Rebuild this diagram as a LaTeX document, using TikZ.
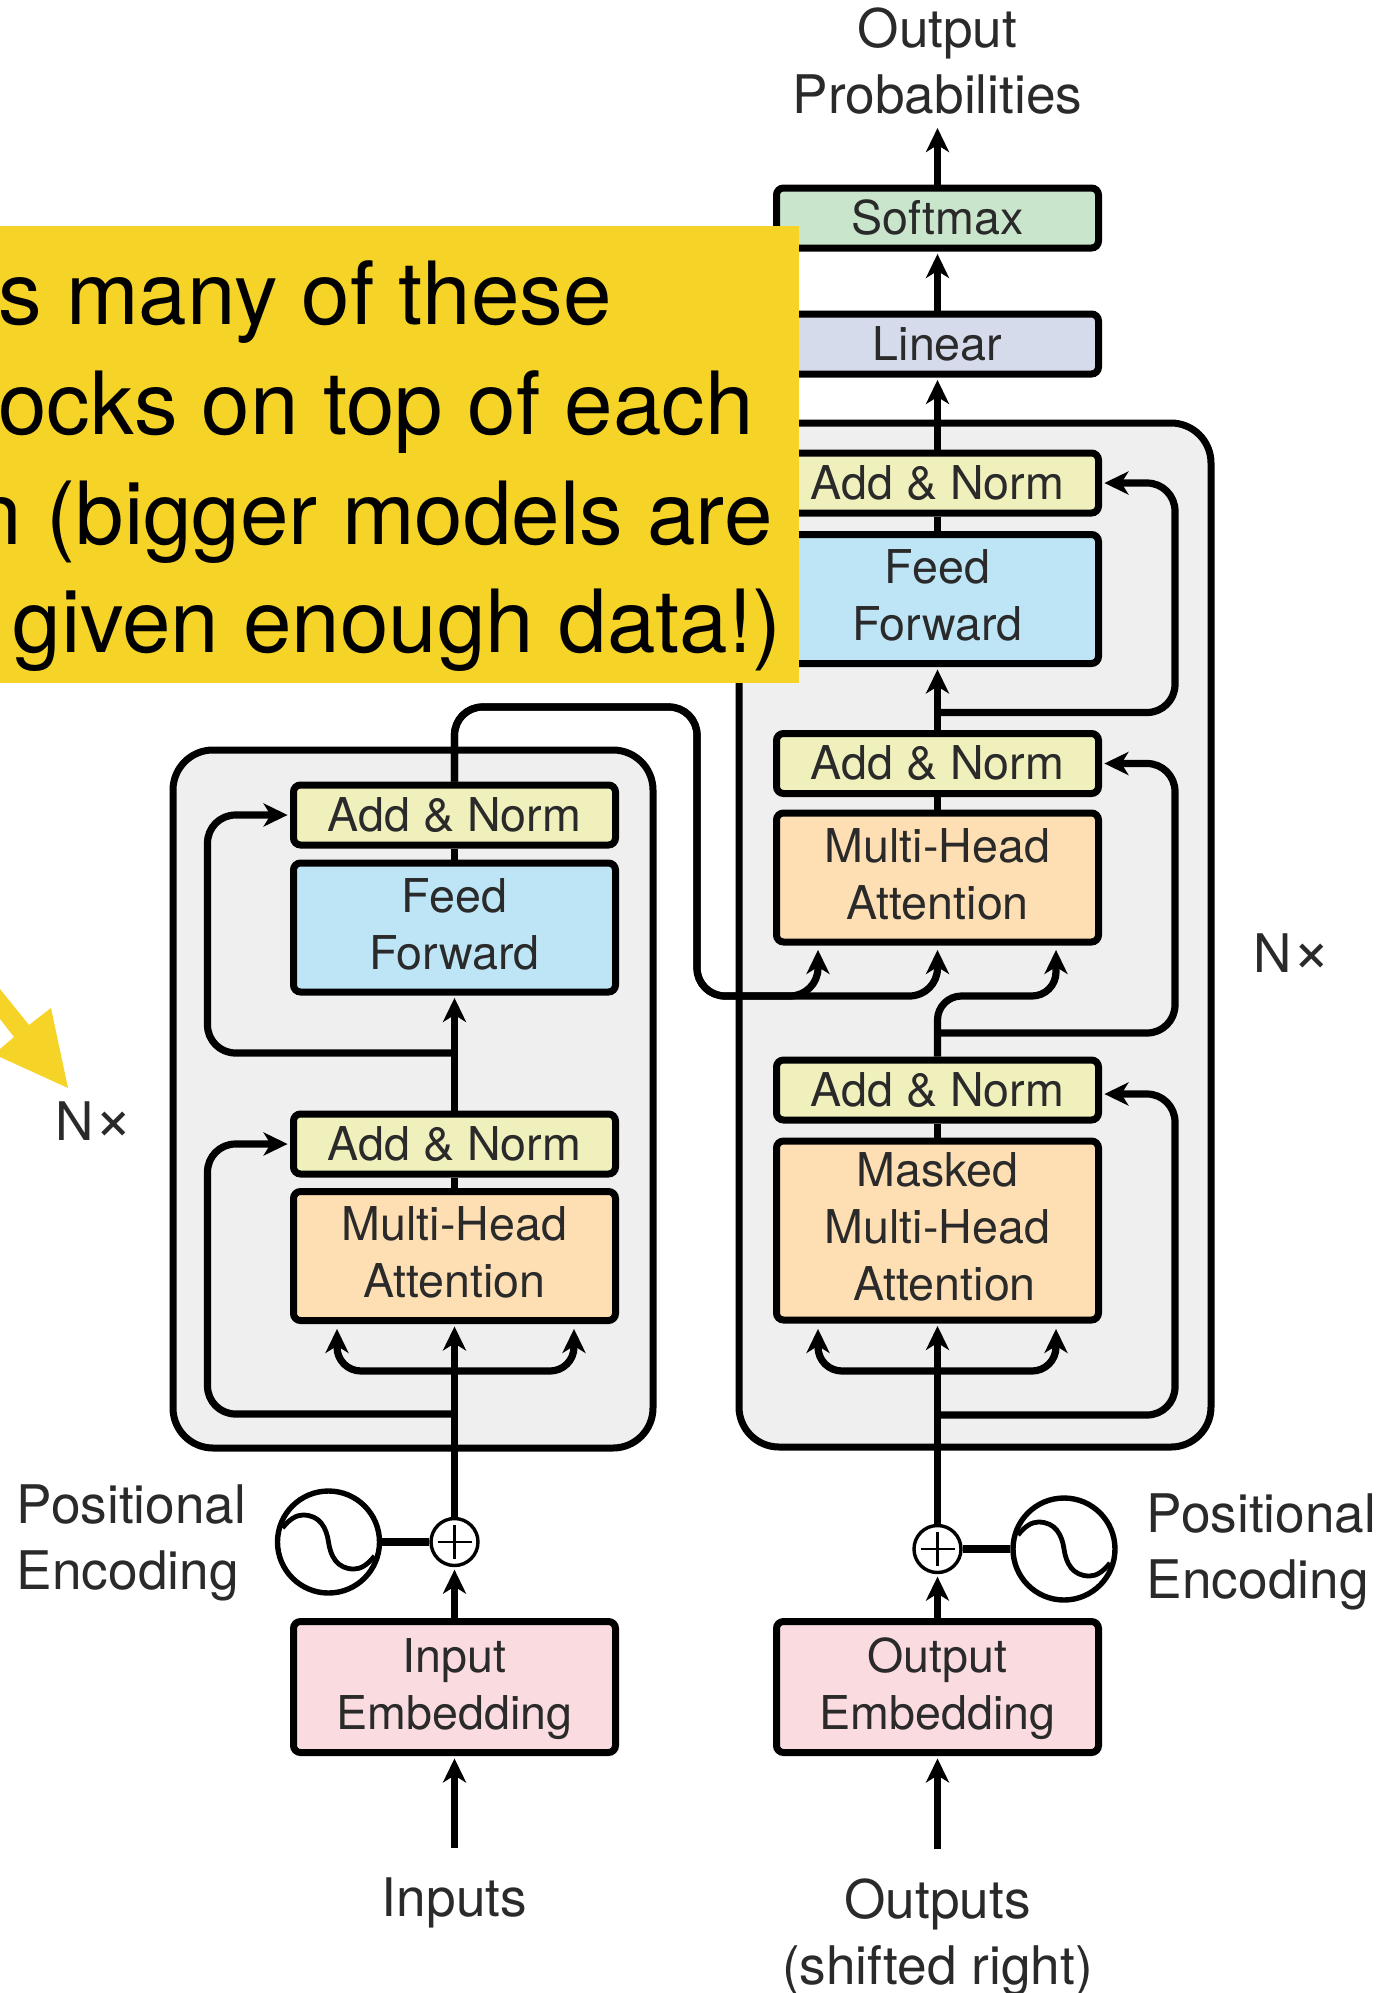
\documentclass[tikz,border=0pt]{standalone}
\usepackage{fontspec}
\setmainfont{TeX Gyre Heros}
\usetikzlibrary{arrows.meta}

\definecolor{softmaxgreen}{HTML}{C9E6CC}
\definecolor{linearblue}{HTML}{D6DBEC}
\definecolor{addnormyellow}{HTML}{EFF0BC}
\definecolor{feedblue}{HTML}{BEE5F6}
\definecolor{headorange}{HTML}{FDDFB3}
\definecolor{embedpink}{HTML}{FADBE0}
\definecolor{stackgray}{HTML}{EFEFEF}
\definecolor{calloutyellow}{HTML}{F5D327}
\definecolor{labelink}{HTML}{2A2A2A}

\tikzset{
  stackbox/.style={draw=black, fill=stackgray, line width=3.5pt, rounded corners=20pt, inner sep=0pt},
  blockbox/.style={draw=black, line width=3.5pt, rounded corners=3.5pt, inner sep=0pt, minimum width=161pt,
    align=center, text=labelink, font=\fontsize{23.3}{28.5}\selectfont},
  thinblock/.style={blockbox, minimum height=30pt},
  addnorm/.style={thinblock, fill=addnormyellow},
  feedblock/.style={blockbox, fill=feedblue, minimum height=64.5pt, text depth=3.8pt},
  headblock/.style={blockbox, fill=headorange, minimum height=64.5pt, text depth=3.8pt},
  embedblock/.style={blockbox, fill=embedpink, minimum height=65.5pt, text depth=3pt},
  labeltext/.style={inner sep=3pt, text=labelink, font=\fontsize{26.6}{33}\selectfont},
  callouttext/.style={inner sep=0pt, text=black, font=\fontsize{43.6}{55}\selectfont},
  flowline/.style={draw=black, line width=3.6pt},
  flowarrow/.style={flowline, -{Stealth[length=12pt,width=11.5pt,inset=3.5pt]}, shorten >=1.2pt},
  skiparrow/.style={flowarrow, rounded corners=14pt},
  keyarrow/.style={flowarrow, rounded corners=12pt},
}

\begin{document}
\begin{tikzpicture}[x=0.5pt,y=-0.5pt]
  \useasboundingbox (0,0) rectangle (1380,1993);

  \node[stackbox, minimum width=240pt, minimum height=349pt] (encstack) at (413,1099) {};
  \node[stackbox, minimum width=236pt, minimum height=512pt] (decstack) at (975,935) {};

  % encoder column
  \node[addnorm] (anencB) at (454.5,815) {Add \& Norm};
  \node[feedblock] (ffenc) at (454.5,927.5) {Feed\\Forward};
  \node[addnorm] (anencA) at (454.5,1144) {Add \& Norm};
  \node[headblock] (mhaenc) at (454.5,1256) {Multi-Head\\Attention};
  \node[embedblock] (embenc) at (454.5,1687) {Input\\Embedding};

  % decoder column
  \node[thinblock, fill=softmaxgreen] (softmax) at (937.5,218) {Softmax};
  \node[thinblock, fill=linearblue] (linear) at (937.5,344) {Linear};
  \node[addnorm] (andecC) at (937.5,483) {Add \& Norm};
  \node[feedblock] (ffdec) at (937.5,599) {Feed\\Forward};
  \node[addnorm] (andecB) at (937.5,763.5) {Add \& Norm};
  \node[headblock] (mhadec) at (937.5,877.5) {Multi-Head\\Attention};
  \node[addnorm] (andecA) at (937.5,1090) {Add \& Norm};
  \node[headblock, minimum height=89.5pt] (maskdec) at (937.5,1230.5) {Masked\\Multi-Head\\\hspace*{7pt}Attention};
  \node[embedblock] (embdec) at (937.5,1687) {Output\\Embedding};

  % positional encoding, sine circle and plus circle
  \foreach \sx/\px/\cy/\tag in {328.5/454.5/1542/enc,1064/937.5/1549/dec}{
    \node[draw=black, fill=white, circle, line width=2.7pt, inner sep=0pt, minimum size=51pt] (sine\tag) at (\sx,\cy) {};
    \begin{scope}[shift={(\sx,\cy)}]
      \draw[line width=2.4pt] (-46,-14) .. controls (-39,-23) and (-32,-27) .. (-25.5,-27)
        .. controls (-8.5,-27) and (-2,-14) .. (0,0)
        .. controls (2,14) and (8.5,27) .. (25.5,27)
        .. controls (32,27) and (39,23) .. (46,14);
    \end{scope}
    \node[draw=black, fill=white, circle, line width=1.7pt, inner sep=0pt, minimum size=23.5pt] (plus\tag) at (\px,\cy) {};
    \draw[line width=1.3pt] (\px,\cy) ++(-17,0) -- ++(34,0) (\px,\cy) ++(0,-17) -- ++(0,34);
    \draw[flowline] (sine\tag) -- (plus\tag);
  }

  % free ends of the connectors
  \coordinate (encskipA) at (454.5,1414);
  \coordinate (encskipB) at (454.5,1053);
  \coordinate (encfork) at (454.5,1371);
  \coordinate (enckeyA) at (337,1326.5);
  \coordinate (enckeyC) at (574,1326.5);
  \coordinate (crosstop) at (697,707);
  \coordinate (crossfoot) at (697,996);
  \coordinate (deckeyA) at (818,947.5);
  \coordinate (deckeyB) at (937.5,947.5);
  \coordinate (deckeyC) at (1056,947.5);
  \coordinate (decturn) at (937.5,996);
  \coordinate (decskipA) at (937.5,1415);
  \coordinate (decskipB) at (937.5,1033);
  \coordinate (decskipC) at (937.5,712.5);
  \coordinate (decfork) at (937.5,1371);
  \coordinate (maskkeyA) at (818,1326.5);
  \coordinate (maskkeyC) at (1056,1326.5);

  % encoder connectors
  \draw[flowarrow] (embenc.north) -- (plusenc.south);
  \draw[flowarrow] (plusenc.north) -- (mhaenc.south);
  \draw[flowline] (mhaenc.north) -- (anencA.south);
  \draw[flowarrow] (anencA.north) -- (ffenc.south);
  \draw[flowline] (ffenc.north) -- (anencB.south);
  \draw[skiparrow] (encskipA) -- ++(-247,0) |- (anencA.west);
  \draw[skiparrow] (encskipB) -- ++(-247,0) |- (anencB.west);
  \draw[keyarrow] (encfork) -| (enckeyA);
  \draw[keyarrow] (encfork) -| (enckeyC);

  % encoder output into the decoder
  \draw[flowarrow, rounded corners=14pt] (anencB.north) |- (crosstop) -- (crossfoot) -| (deckeyA);
  \draw[flowarrow, rounded corners=14pt] (anencB.north) |- (crosstop) -- (crossfoot) -| (deckeyB);

  % decoder connectors
  \draw[flowarrow] (embdec.north) -- (plusdec.south);
  \draw[flowarrow] (plusdec.north) -- (maskdec.south);
  \draw[flowline] (maskdec.north) -- (andecA.south);
  \draw[keyarrow] (andecA.north) -- (decturn) -| (deckeyC);
  \draw[flowline] (mhadec.north) -- (andecB.south);
  \draw[flowarrow] (andecB.north) -- (ffdec.south);
  \draw[flowline] (ffdec.north) -- (andecC.south);
  \draw[flowarrow] (andecC.north) -- (linear.south);
  \draw[flowarrow] (linear.north) -- (softmax.south);
  \draw[skiparrow] (decskipA) -- ++(237.5,0) |- ([yshift=-2pt]andecA.east);
  \draw[skiparrow] (decskipB) -- ++(237.5,0) |- (andecB.east);
  \draw[skiparrow] (decskipC) -- ++(237.5,0) |- (andecC.east);
  \draw[keyarrow] (decfork) -| (maskkeyA);
  \draw[keyarrow] (decfork) -| (maskkeyC);

  % labels
  \node[labeltext, align=center, anchor=south] (outprobs) at (937.5,121) {Output\\Probabilities};
  \node[labeltext, anchor=base] (inputs) at (454.5,1916) {Inputs};
  \node[labeltext, align=center, anchor=north] (outputs) at (937.5,1872) {Outputs\\(shifted right)};
  \node[labeltext, align=left, anchor=west] (posenc) at (10.5,1543) {Positional\\Encoding};
  \node[labeltext, align=left, anchor=west] (posdec) at (1140.5,1551.5) {Positional\\Encoding};
  \node[labeltext, anchor=base west] (nxenc) at (49.5,1140) {N{\fontsize{33}{33}\selectfont ×}};
  \node[labeltext, anchor=base west] (nxdec) at (1247.5,972) {N{\fontsize{33}{33}\selectfont ×}};

  \draw[flowarrow, shorten >=3.5pt] (softmax.north) -- (outprobs.south);
  \draw[flowarrow, shorten <=11.5pt] (inputs.north) -- (embenc.south);
  \draw[flowarrow, shorten <=11.5pt] (outputs.north) -- (embdec.south);

  % yellow callout over the top left
  \fill[calloutyellow] (0,226) rectangle (799,683);
  \foreach \lx/\ly/\ltext [count=\i] in {612/324/s many of these,754/434/ocks on top of each,773/544/n (bigger models are,782/652/given enough data!)}{
    \node[callouttext, anchor=base east] (callout\i) at (\lx,\ly) {\ltext};
  }
  \fill[calloutyellow] (0,989) -- (29,1025) -- (51,1008) -- (68,1088) -- (0,1057) -- (0,1049) -- (14,1037) -- (0,1019) -- cycle;
\end{tikzpicture}
\end{document}
